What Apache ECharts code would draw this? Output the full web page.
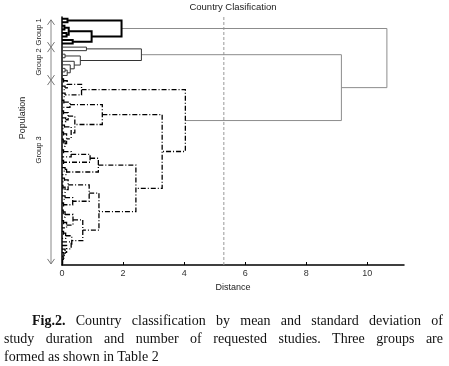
<!DOCTYPE html>
<html>
<head>
<meta charset="utf-8">
<script src="https://cdn.jsdelivr.net/npm/echarts@6/dist/echarts.min.js"></script>
<style>
  html, body { margin: 0; padding: 0; background: #fff; }
  #chart { position: absolute; left: 0; top: 0; width: 449px; height: 300px; }
  .cap { position: absolute; font-family: 'Liberation Serif', 'Times New Roman', serif; font-size: 14px; line-height: 18px; color: #111; white-space: nowrap; }
  .just { text-align: justify; text-align-last: justify; white-space: normal; }
</style>
</head>
<body>
<div id="chart"></div>
<div class="cap just" style="left:32px;top:312px;width:411px"><b>Fig.2.</b> Country classification by mean and standard deviation of</div>
<div class="cap just" style="left:4px;top:330px;width:439px">study duration and number of requested studies. Three groups are</div>
<div class="cap" style="left:4px;top:348px">formed as shown in Table 2</div>
<script>
const leafCount = 70;
const xTicks = [0, 2, 4, 6, 8, 10];
const cutoff = 5.3;

// merges written as [left, right, distance]; plain numbers are leaves, top to bottom
const group1Tree = [[0, 1, 0.18], [[[2, 3, 0.08], [4, 5, 0.15], 0.22], [6, 7, 0.35], 0.97], 1.95];
const group2Tree = [[8, 9, 0.8], [[10, 11, 0.1], [12, [13, [[14, 15, 0.1], 16, 0.17], 0.27], 0.4], 0.6], 2.6];

const clusterP = [[[17, 18, 0.05], [19, 20, 0.1], 0.17], [21, 22, 0.1], 0.64];
const clusterQ = [[[23, 24, 0.06], 25, 0.26],
  [[[26, 27, 0.05], [28, 29, 0.12], 0.2], [[30, 31, 0.08], [[32, 33, 0.05], [[34, 35, 0.04], 36, 0.1], 0.15], 0.3], 0.42], 1.32];
const clusterU = [[[[37, 38, 0.05], 39, 0.3], [40, 41, 0.05], 0.92], [[42, 43, 0.1], 44, 0.15], 1.19];
const clusterV1 = [[[45, 46, 0.08], [[47, 48, 0.03], 49, 0.1], 0.2], [[50, 51, 0.1], [52, 53, 0.05], 0.35], 0.89];
const clusterV2 = [[[[54, 55, 0.04], 56, 0.1], [[57, 58, 0.05], 59, 0.15], 0.36],
  [[[60, 61, 0.05], 62, 0.12], [63, [64, [65, [66, [67, [68, 69, 0.02], 0.04], 0.06], 0.1], 0.15], 0.3], 0.32], 0.68];
const group3Tree = [clusterP, [clusterQ, [clusterU, [clusterV1, clusterV2, 1.21], 2.42], 3.28], 4.04];

const topDistances = [9.15, 10.64]; // group 2 + group 3, then with group 1
const groupNames = ['Group 1', 'Group 2', 'Group 3'];
const groupLabelAt = [3.7, 12.2, 37];
const groupEdges = [0.3, 8, 17.3, 69.2];

function walk(node, out) {
  if (typeof node === 'number') return { y: node, d: 0 };
  const a = walk(node[0], out);
  const b = walk(node[1], out);
  const d = node[2];
  out.push({ coords: [[a.d, a.y], [d, a.y], [d, b.y], [b.d, b.y]] });
  return { y: (a.y + b.y) / 2, d: d };
}

const seg1 = [], seg2 = [], seg3 = [], segTop = [];
const g1 = walk(group1Tree, seg1);
const g2 = walk(group2Tree, seg2);
const g3 = walk(group3Tree, seg3);
const n23 = { y: (g2.y + g3.y) / 2, d: topDistances[0] };
segTop.push({ coords: [[g2.d, g2.y], [n23.d, g2.y], [n23.d, g3.y], [g3.d, g3.y]] });
segTop.push({ coords: [[g1.d, g1.y], [topDistances[1], g1.y], [topDistances[1], n23.y], [n23.d, n23.y]] });

const leafNames = Array.from({ length: leafCount }, (_, i) => 'C' + (i + 1));

const chart = echarts.init(document.getElementById('chart'));
const font = 'Liberation Sans, Arial, sans-serif';

function linesSeries(data, style) {
  return { type: 'lines', coordinateSystem: 'cartesian2d', polyline: true, silent: true, data: data,
    lineStyle: Object.assign({ opacity: 1, curveness: 0 }, style) };
}

chart.setOption({
  animation: false,
  grid: { left: 62, right: 45, top: 17, bottom: 35 },
  xAxis: {
    type: 'value', min: 0, max: 11.2,
    name: 'Distance', nameLocation: 'middle', nameGap: 17,
    nameTextStyle: { color: '#222', fontSize: 9, fontFamily: font },
    axisLine: { onZero: false, lineStyle: { color: '#000', width: 1.5 } },
    axisTick: { inside: true, length: 3, customValues: xTicks, lineStyle: { color: '#000' } },
    axisLabel: { customValues: xTicks, color: '#333', fontSize: 9, margin: 4, fontFamily: font },
    splitLine: { show: false }
  },
  yAxis: [
    { type: 'value', min: -0.5, max: leafCount - 0.5, inverse: true, show: false },
    {
      type: 'category', data: leafNames, inverse: true, position: 'left',
      axisLine: { onZero: false, lineStyle: { color: '#000', width: 1.5 } },
      axisTick: { inside: true, alignWithLabel: true, interval: 0, length: 2, lineStyle: { color: '#000' } },
      axisLabel: { show: false },
      splitLine: { show: false }
    }
  ],
  series: [
    linesSeries([{ coords: [[cutoff, -0.5], [cutoff, leafCount - 0.5]] }], { color: '#999', width: 1, type: [3, 2] }),
    linesSeries(segTop, { color: '#8c8c8c', width: 1 }),
    linesSeries(seg1, { color: '#000', width: 2 }),
    linesSeries(seg2, { color: '#333', width: 1 }),
    linesSeries(seg3, { color: '#000', width: 1.3, type: [5, 2, 1, 2] })
  ]
});

const py = (v) => chart.convertToPixel({ yAxisIndex: 0 }, v);
const gridMid = (chart.convertToPixel({ xAxisIndex: 0 }, 0) + chart.convertToPixel({ xAxisIndex: 0 }, 11.2)) / 2;
const arrowX = 51;
const graphics = [
  { type: 'text', x: gridMid, y: 7, style: { text: 'Country Clasification', fontSize: 9.5, fontFamily: font, fill: '#222', align: 'center', verticalAlign: 'middle' } },
  { type: 'text', x: 23, y: py(28), rotation: Math.PI / 2, style: { text: 'Population', fontSize: 9, fontFamily: font, fill: '#222', align: 'center', verticalAlign: 'middle' } },
  { type: 'line', shape: { x1: arrowX, y1: py(groupEdges[0]), x2: arrowX, y2: py(groupEdges[3]) }, style: { stroke: '#888', lineWidth: 1 } }
];
groupNames.forEach((name, i) => {
  graphics.push({ type: 'text', x: 39, y: py(groupLabelAt[i]), rotation: Math.PI / 2, style: { text: name, fontSize: 7.5, fontFamily: font, fill: '#222', align: 'center', verticalAlign: 'middle' } });
});
groupEdges.forEach((e, k) => {
  const y = py(e);
  if (k < groupEdges.length - 1) {
    graphics.push({ type: 'polyline', shape: { points: [[arrowX - 3.5, y + 5], [arrowX, y], [arrowX + 3.5, y + 5]] }, style: { stroke: '#777', fill: null, lineWidth: 1 } });
  }
  if (k > 0) {
    graphics.push({ type: 'polyline', shape: { points: [[arrowX - 3.5, y - 5], [arrowX, y], [arrowX + 3.5, y - 5]] }, style: { stroke: '#777', fill: null, lineWidth: 1 } });
  }
});
chart.setOption({ graphic: graphics });
</script>
</body>
</html>
